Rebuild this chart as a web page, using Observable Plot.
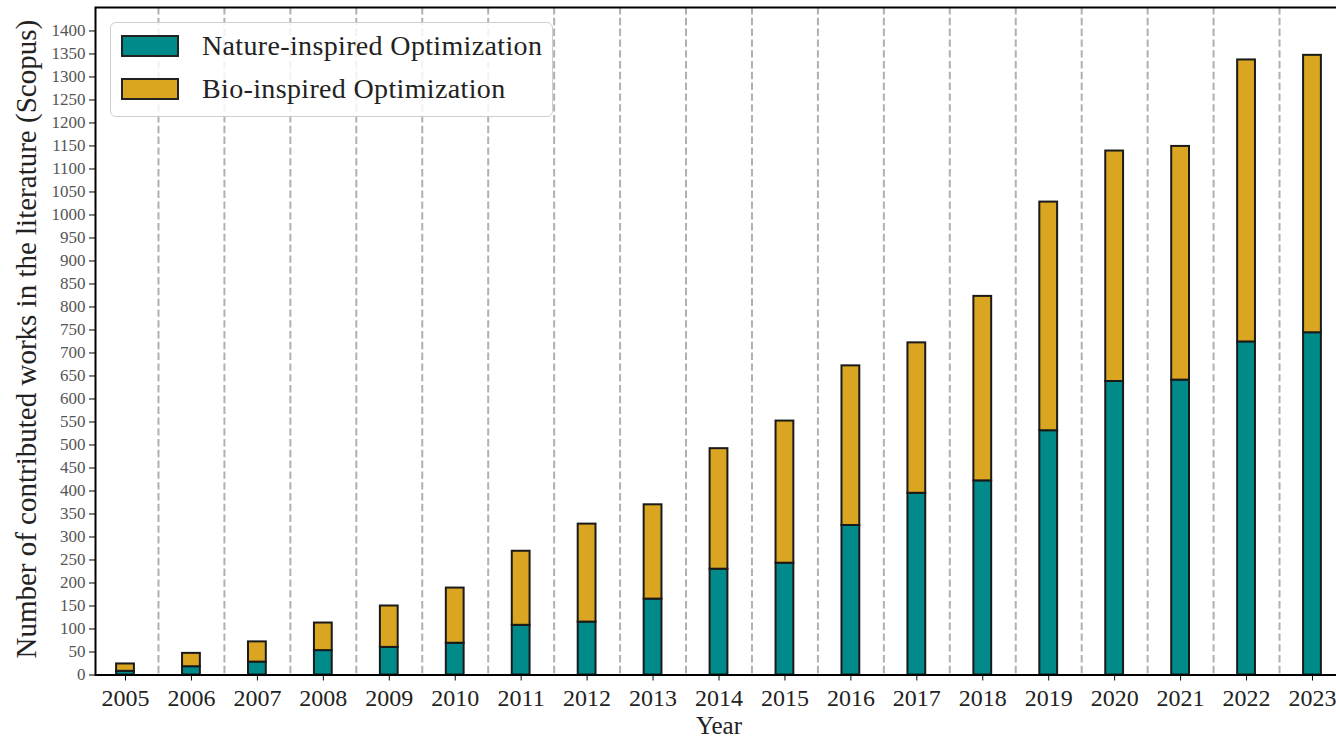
<!DOCTYPE html>
<html>
<head>
<meta charset="utf-8">
<script src="https://cdn.jsdelivr.net/npm/d3@7"></script>
<script src="https://cdn.jsdelivr.net/npm/@observablehq/plot@0.6"></script>
<style>
  html, body { margin: 0; padding: 0; background: #fff; }
  body { width: 1336px; height: 740px; overflow: hidden; position: relative; font-family: "Liberation Serif", serif; }
  #chart { position: absolute; left: 0; top: 0; width: 1342px; }
  #chart svg { max-width: none !important; width: 1342px; height: 740px; }
  .legend { position: absolute; left: 110px; top: 22px; width: 443px; height: 95px; box-sizing: border-box;
    border: 1.5px solid #cfcfcf; border-radius: 6px; background: rgba(255,255,255,0.82); }
  .legend .item { position: absolute; left: 10px; height: 23px; display: flex; align-items: center; }
  .legend .sw { width: 58px; height: 22px; box-sizing: border-box; border: 2px solid #222; }
  .legend .lab { margin-left: 23px; font-size: 28px; letter-spacing: 0.35px; color: #222; white-space: nowrap; }
</style>
</head>
<body>
<div id="chart"></div>
<script>
const years = [2005, 2006, 2007, 2008, 2009, 2010, 2011, 2012, 2013, 2014, 2015, 2016, 2017, 2018, 2019, 2020, 2021, 2022, 2023];
const nature = [8, 18, 28, 53, 60, 69, 108, 115, 165, 230, 243, 325, 395, 422, 531, 638, 641, 724, 744];
const bio = [16, 29, 44, 60, 90, 120, 161, 213, 205, 262, 309, 347, 327, 401, 497, 501, 508, 613, 603];
const yTicks = [0, 50, 100, 150, 200, 250, 300, 350, 400, 450, 500, 550, 600, 650, 700, 750, 800, 850, 900, 950, 1000, 1050, 1100, 1150, 1200, 1250, 1300, 1350, 1400];
const seriesNames = ["Nature-inspired Optimization", "Bio-inspired Optimization"];
const seriesColors = ["#008b8a", "#daa520"];
const xLabel = "Year";
const yLabel = "Number of contributed works in the literature (Scopus)";

const rows = years.map((year, i) => ({year, nature: nature[i], total: nature[i] + bio[i]}));
const gridX = years.slice(0, -1).map(y => y + 0.5);
const half = 0.135;

const chart = Plot.plot({
  width: 1342,
  height: 740,
  marginLeft: 95,
  marginRight: 0,
  marginTop: 7,
  marginBottom: 65.5,
  x: {domain: [2004.545, 2023.455]},
  y: {domain: [0, 1451]},
  style: {fontFamily: "'Liberation Serif', serif", background: "white", maxWidth: "none"},
  marks: [
    Plot.ruleX(gridX, {stroke: "#b0b0b0", strokeWidth: 2, strokeDasharray: "7.4,3.4"}),
    Plot.rectY(rows, {x1: d => d.year - half, x2: d => d.year + half, y1: 0, y2: "nature", fill: seriesColors[0], stroke: "#1a1a1a", strokeWidth: 2}),
    Plot.rectY(rows, {x1: d => d.year - half, x2: d => d.year + half, y1: "nature", y2: "total", fill: seriesColors[1], stroke: "#1a1a1a", strokeWidth: 2}),
    Plot.frame({stroke: "black", strokeWidth: 2}),
    Plot.axisX({ticks: years, tickFormat: d => String(d), tickSize: 6, tickPadding: 8, fontSize: 24, label: null, stroke: "black", fill: "#222"}),
    Plot.axisY({ticks: yTicks, tickFormat: d => String(d), tickSize: 6, tickPadding: 4, fontSize: 17, label: null, stroke: "black", fill: "#555"}),
    Plot.text([xLabel], {frameAnchor: "bottom", lineAnchor: "middle", dy: 51, fontSize: 25, fill: "#222"}),
    Plot.text([yLabel], {frameAnchor: "left", textAnchor: "middle", lineAnchor: "middle", dx: -69, dy: -2, rotate: -90, fontSize: 29, fill: "#222"})
  ]
});
document.getElementById("chart").appendChild(chart);

const legend = document.createElement("div");
legend.className = "legend";
seriesNames.forEach((name, i) => {
  const item = document.createElement("div");
  item.className = "item";
  item.style.top = (11 + i * 43) + "px";
  const sw = document.createElement("div");
  sw.className = "sw";
  sw.style.background = seriesColors[i];
  const lab = document.createElement("span");
  lab.className = "lab";
  lab.textContent = name;
  item.appendChild(sw);
  item.appendChild(lab);
  legend.appendChild(item);
});
document.body.appendChild(legend);
</script>
</body>
</html>
